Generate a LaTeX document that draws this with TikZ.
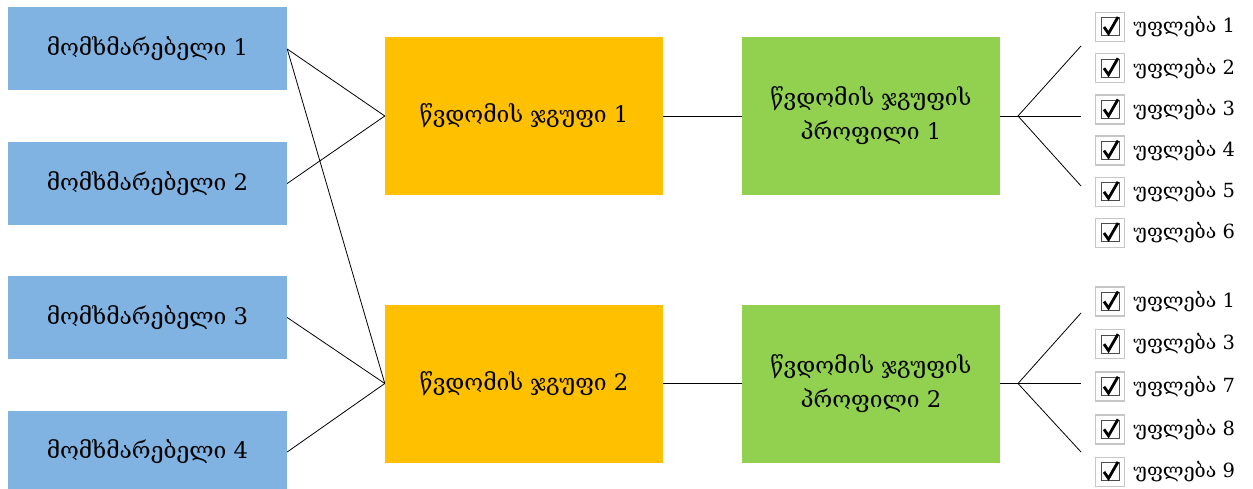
\documentclass[tikz,border=0pt]{standalone}
\usepackage{fontspec}
\setmainfont{DejaVu Serif}
\usetikzlibrary{positioning}

\definecolor{azul}{RGB}{128,179,225}
\definecolor{naranja}{RGB}{255,192,0}
\definecolor{verde}{RGB}{146,208,80}

\begin{document}
\begin{tikzpicture}[x=1pt,y=-1pt]

	%DEFINICIONES
	\tikzstyle{every node}=[font=\fontsize{22.8}{34}\selectfont]
	\tikzstyle{usuario} = [fill=azul, align=center, inner sep=0pt, minimum width=279pt, minimum height=83pt]
	\tikzstyle{grupo} = [fill=naranja, align=center, inner sep=0pt, minimum width=278pt, minimum height=158pt]
	\tikzstyle{perfil} = [fill=verde, align=center, inner sep=0pt, minimum width=258pt, minimum height=158pt]
	\tikzstyle{linea} = [line width=0.8pt]
	\tikzstyle{permiso} = [inner sep=0pt, font=\fontsize{19.5}{22}\selectfont]
	\tikzstyle{casilla} = [draw=gray!45, line width=1.5pt, minimum size=29pt, inner sep=0pt, path picture={
		\draw[gray!60!black, line width=1pt] ([shift={(-9pt,-9pt)}]path picture bounding box.center) rectangle ([shift={(9pt,9pt)}]path picture bounding box.center);
		\draw[black, line width=2.8pt] ([shift={(-6pt,0pt)}]path picture bounding box.center) -- ([shift={(-1.5pt,-6.5pt)}]path picture bounding box.center) -- ([shift={(8pt,10pt)}]path picture bounding box.center);
	}]

	\useasboundingbox (0,0) rectangle (1253,489);

	%BLOQUES
	\draw(147.5,49) node[usuario](u1){მომხმარებელი 1};
	\draw(147.5,183.5) node[usuario](u2){მომხმარებელი 2};
	\draw(147.5,317.5) node[usuario](u3){მომხმარებელი 3};
	\draw(147.5,452) node[usuario](u4){მომხმარებელი 4};

	\draw(524,116) node[grupo](g1){წვდომის ჯგუფი 1};
	\draw(524,383.5) node[grupo](g2){წვდომის ჯგუფი 2};

	\draw(871,116) node[perfil](p1){წვდომის ჯგუფის\\პროფილი 1};
	\draw(871,383.5) node[perfil](p2){წვდომის ჯგუფის\\პროფილი 2};

	%PERMISOS
	\foreach \n [count=\i from 0] in {1,2,3,4,5,6}{
		\node[casilla] (c1-\n) at (1110,27+41.2*\i) {};
		\node[permiso, right=8pt of c1-\n] (t1-\n) {უფლება \n};
	}
	\foreach \n [count=\i from 0] in {1,3,7,8,9}{
		\node[casilla] (c2-\n) at (1110,301.5+42.6*\i) {};
		\node[permiso, right=8pt of c2-\n] (t2-\n) {უფლება \n};
	}

	\coordinate (a1) at (1018,116);
	\coordinate (a1a) at (1081,46);
	\coordinate (a1b) at (1081,116);
	\coordinate (a1c) at (1081,186);
	\coordinate (a2) at (1018,383.5);
	\coordinate (a2a) at (1081,313);
	\coordinate (a2b) at (1081,383.5);
	\coordinate (a2c) at (1081,452);

	%LINEAS
	\draw [linea] (u1.east) -- (g1.west);
	\draw [linea] (u1.east) -- (g2.west);
	\draw [linea] (u2.east) -- (g1.west);
	\draw [linea] (u3.east) -- (g2.west);
	\draw [linea] (u4.east) -- (g2.west);

	\draw [linea] (g1.east) -- (p1.west);
	\draw [linea] (g2.east) -- (p2.west);

	\draw [linea] (p1.east) -- (a1);
	\draw [linea] (a1) -- (a1a);
	\draw [linea] (a1) -- (a1b);
	\draw [linea] (a1) -- (a1c);
	\draw [linea] (p2.east) -- (a2);
	\draw [linea] (a2) -- (a2a);
	\draw [linea] (a2) -- (a2b);
	\draw [linea] (a2) -- (a2c);
\end{tikzpicture}
\end{document}
